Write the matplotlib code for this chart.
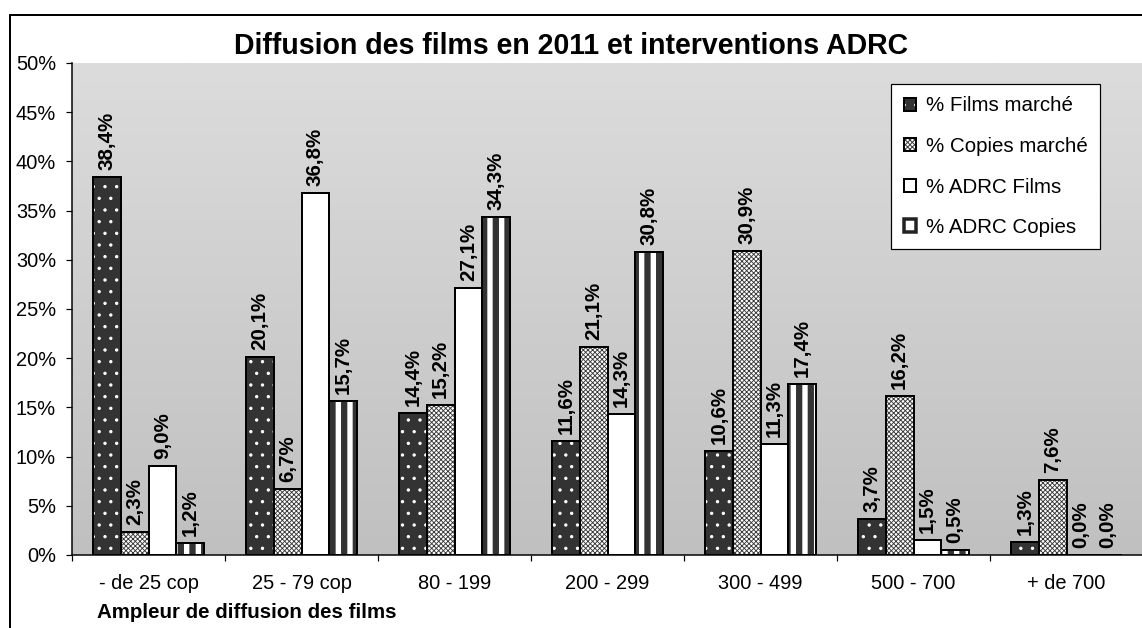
import matplotlib
matplotlib.use('Agg')
import matplotlib.pyplot as plt
import numpy as np
from matplotlib.patches import Rectangle
from matplotlib.legend_handler import HandlerTuple
from matplotlib.colors import LinearSegmentedColormap

categories = ['- de 25 cop', '25 - 79 cop', '80 - 199', '200 - 299',
              '300 - 499', '500 - 700', '+ de 700']
films_marche = [38.4, 20.1, 14.4, 11.6, 10.6, 3.7, 1.3]
copies_marche = [2.3, 6.7, 15.2, 21.1, 30.9, 16.2, 7.6]
adrc_films = [9.0, 36.8, 27.1, 14.3, 11.3, 1.5, 0.0]
adrc_copies = [1.2, 15.7, 34.3, 30.8, 17.4, 0.5, 0.0]
series_names = ['% Films marché', '% Copies marché', '% ADRC Films', '% ADRC Copies']
yticks = [0, 5, 10, 15, 20, 25, 30, 35, 40, 45, 50]
title = 'Diffusion des films en 2011 et interventions ADRC'
xtitle = 'Ampleur de diffusion des films'

DPI = 70
W, H = 1142, 628


def px(v):
    return v * 72.0 / DPI


def with_hatch_lw(artist, lw_pt):
    """Make the artist draw with its own hatch line width."""
    if hasattr(artist, 'set_hatch_linewidth'):
        artist.set_hatch_linewidth(lw_pt)
    orig_draw = artist.draw

    def draw(renderer, _orig=orig_draw, _lw=lw_pt):
        with matplotlib.rc_context({'hatch.linewidth': _lw}):
            return _orig(renderer)
    artist.draw = draw


plt.rcParams['font.family'] = ['Liberation Sans', 'DejaVu Sans']

fig = plt.figure(figsize=(W / DPI, H / DPI), dpi=DPI)
fig.patch.set_facecolor('white')
ax = fig.add_axes([72 / W, 1 - 555 / H, 1071 / W, 492 / H])

# gradient plot background
cmap = LinearSegmentedColormap.from_list('g', ['#c0c0c0', '#dcdcdc'])
ax.imshow(np.linspace(0, 1, 256).reshape(-1, 1), cmap=cmap, origin='lower',
          extent=[0, 1, 0, 1], transform=ax.transAxes, aspect='auto', zorder=0)

series = [films_marche, copies_marche, adrc_films, adrc_copies]
styles = [
    dict(face='#333333', hatch='.', hcolor='white', hlw=1.0),
    dict(face='white', hatch='xxxxx', hcolor='#3a3a3a', hlw=0.9),
    dict(face='white', hatch=None, hcolor='white', hlw=1.0),
    dict(face='white', hatch='|', hcolor='#333333', hlw=6.3),
]
bw = 0.18
handles = []
for k, (vals, st) in enumerate(zip(series, styles)):
    x = np.arange(len(categories)) + 0.5 + (k - 1.5) * bw
    fill = ax.bar(x, vals, width=bw, color=st['face'], edgecolor=st['hcolor'],
                  hatch=st['hatch'], linewidth=0, zorder=2)
    for p in fill.patches:
        with_hatch_lw(p, px(st['hlw']))
    outline = ax.bar(x, vals, width=bw, fill=False, edgecolor='black',
                     linewidth=px(2), zorder=3)
    if k == 3:
        proxy = Rectangle((0, 0), 1, 1, facecolor='white', edgecolor='#222222',
                          linewidth=px(3.5))
        handles.append(proxy)
    else:
        handles.append((fill.patches[0], outline.patches[0]))
    for xi, v in zip(x, vals):
        ax.annotate(f"{v:.1f}%".replace('.', ','), (xi, v), xytext=(0, px(7)),
                    textcoords='offset points', rotation=90, ha='center',
                    va='bottom', fontsize=px(20.5), fontweight='bold', zorder=4)

ax.set_xlim(0, len(categories))
ax.set_ylim(0, 50)
ax.set_xticks(range(len(categories) + 1))
ax.set_xticklabels([])
ax.set_xticks(np.arange(len(categories)) + 0.5, minor=True)
ax.set_xticklabels(categories, minor=True)
ax.tick_params(axis='x', which='major', length=px(6), width=px(1.2), direction='out')
ax.tick_params(axis='x', which='minor', length=0, pad=px(19), labelsize=px(20))
ax.set_yticks(yticks)
ax.set_yticklabels([f"{t}%" for t in yticks])
ax.tick_params(axis='y', length=px(6), width=px(1.2), pad=px(10), labelsize=px(20))
for s in ['top', 'right']:
    ax.spines[s].set_visible(False)
for s in ['left', 'bottom']:
    ax.spines[s].set_linewidth(px(1.5))
    ax.spines[s].set_color('black')

leg = ax.legend(handles, series_names, handler_map={tuple: HandlerTuple(ndivide=1)},
                loc='upper right', bbox_to_anchor=(0.960, 0.957), borderaxespad=0,
                frameon=True, fancybox=False, edgecolor='black', framealpha=1,
                fontsize=px(20.5), handlelength=0.6, handleheight=0.6,
                handletextpad=0.5, labelspacing=1.05, borderpad=0.6)
leg.get_frame().set_linewidth(px(1.2))

fig.text(571 / W, 1 - 46 / H, title, ha='center', va='center',
         fontsize=px(28.5), fontweight='bold')
fig.text(97 / W, 1 - 612 / H, xtitle, ha='left', va='center',
         fontsize=px(20.5), fontweight='bold')

fig.patches.append(Rectangle((10 / W, -0.05), 1.2, 1.05 - 15 / H,
                             transform=fig.transFigure, fill=False,
                             edgecolor='black', linewidth=px(2)))

fig.savefig('out.png', dpi=DPI)
